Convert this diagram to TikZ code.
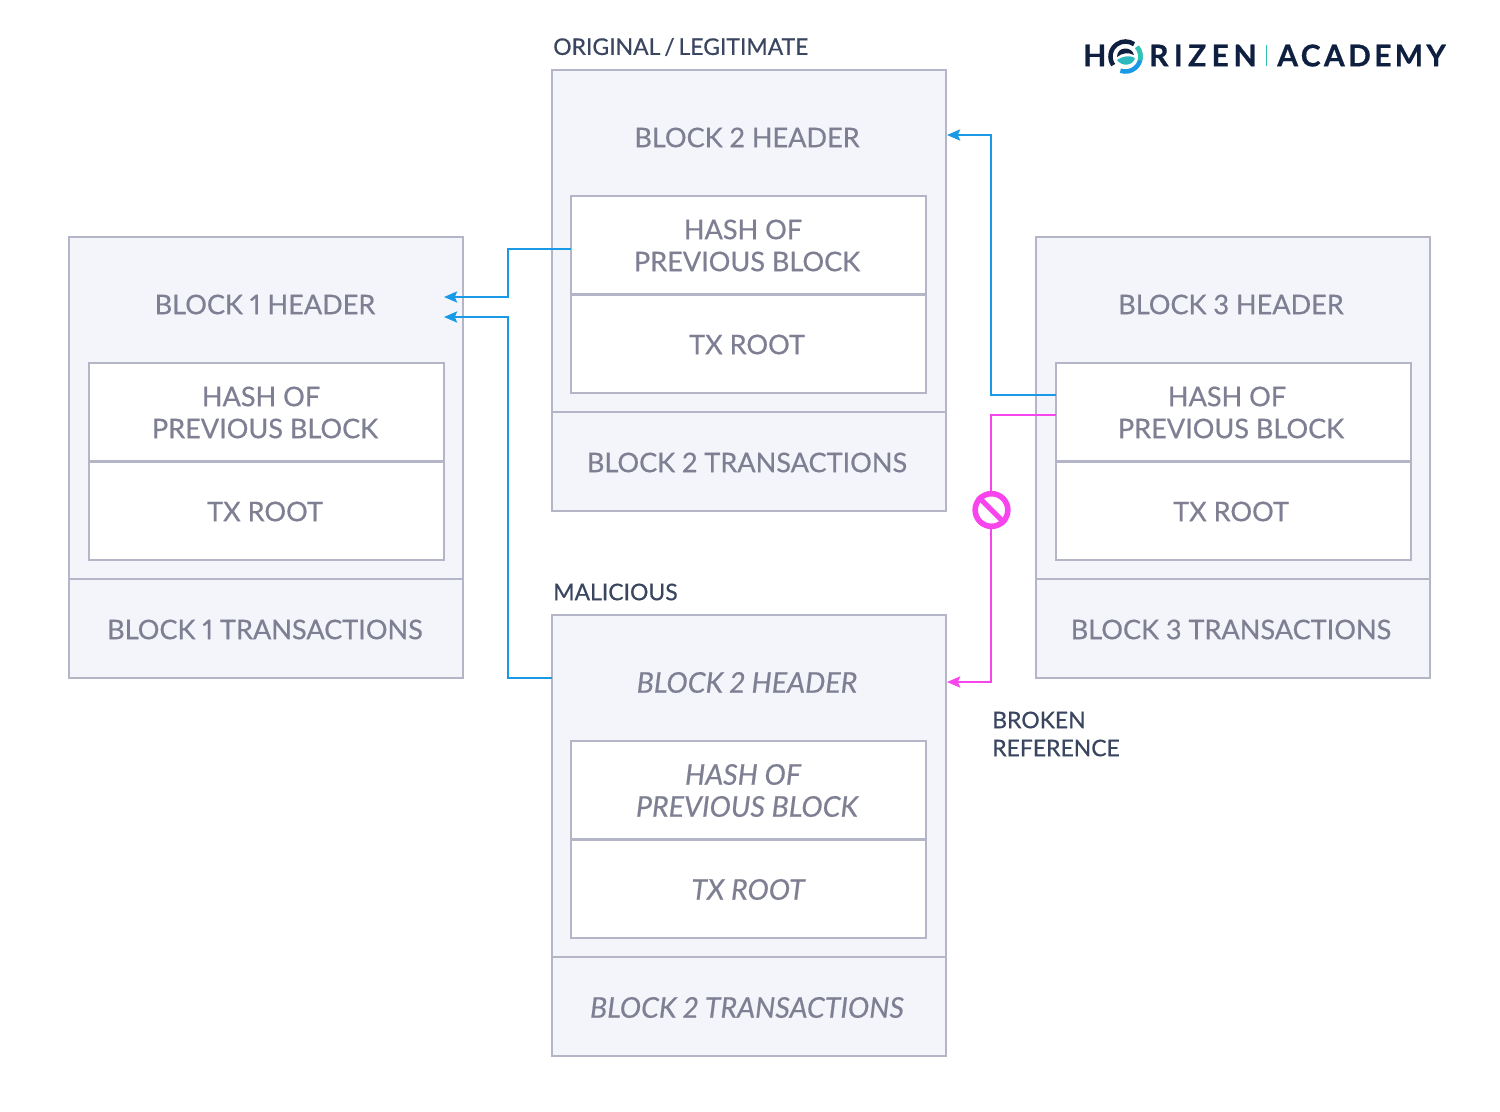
\documentclass[tikz,border=0pt]{standalone}
\usepackage{fontspec}
\setmainfont{Lato}[FakeBold=0.5,Numbers=Proportional]
\newfontfamily\logofont[LetterSpace=6,FakeBold=0.6]{Lato Bold}
\newfontfamily\logofontb[LetterSpace=11,FakeBold=0.6]{Lato Bold}
\usetikzlibrary{arrows.meta}
\definecolor{edgegray}{HTML}{B5B5C8}
\definecolor{panel}{HTML}{F4F5FA}
\definecolor{labelgray}{HTML}{7E7F93}
\definecolor{titleink}{HTML}{3A4660}
\definecolor{linkblue}{HTML}{1A9AE6}
\definecolor{linkpink}{HTML}{F844EC}
\definecolor{navy}{HTML}{0F1F40}
\definecolor{teal}{HTML}{2FC4B2}
\tikzset{
  x=0.75pt,y=-0.75pt,
  outerbox/.style={draw=edgegray,fill=panel,line width=1.6pt,anchor=north west,minimum width=295.5pt,inner sep=0pt,outer sep=0pt},
  innerbox/.style={draw=edgegray,fill=white,line width=1.5pt,anchor=north west,minimum width=266.25pt,minimum height=73.5pt,inner sep=0pt,outer sep=0pt},
  blocklabel/.style={text=labelgray,font=\fontsize{20.3}{24}\selectfont,align=center,inner sep=0pt},
  maliciouslabel/.style={blocklabel,font=\fontsize{21.4}{24}\itshape},
  titlelabel/.style={text=titleink,font=\fontsize{17.2}{21}\selectfont,anchor=west,align=left,inner sep=0pt},
  link/.style={line width=1.2pt,-{Stealth[length=10pt,width=8.5pt,inset=2pt]}},
  logotext/.style={text=navy,inner sep=0pt,anchor=west},
}
\newcommand{\blockbox}[4]{% name, x, y, x of the inner boxes
  \node[outerbox,minimum height=256.5pt] (#1head) at (#2,#3) {};
  \node[outerbox,minimum height=74.25pt] (#1tx) at (#2,#3+342) {};
  \node[innerbox] (#1hash) at (#4,#3+126) {};
  \node[innerbox] (#1root) at (#4,#3+224.5) {};
}
\begin{document}
\begin{tikzpicture}
\useasboundingbox (0,0) rectangle (1500,1111);
\fill[white] (0,0) rectangle (1500,1111);

\blockbox{a}{69}{237}{88.7}
\blockbox{b}{552}{70}{571.2}
\blockbox{c}{1036}{237}{1055.5}
\blockbox{m}{552}{615}{571.2}

\node[blocklabel] (alabel) at (265,304.5) {BLOCK 1 HEADER};
\node[blocklabel] (ahashlabel) at (265,412.5) {HASH OF\hspace*{6pt}\\PREVIOUS BLOCK};
\node[blocklabel] (arootlabel) at (265,511.5) {TX ROOT};
\node[blocklabel] (atxlabel) at (265,629.5) {BLOCK 1 TRANSACTIONS};

\node[blocklabel] (blabel) at (747,137.5) {BLOCK 2 HEADER};
\node[blocklabel] (bhashlabel) at (747,245.5) {HASH OF\hspace*{6pt}\\PREVIOUS BLOCK};
\node[blocklabel] (brootlabel) at (747,344.5) {TX ROOT};
\node[blocklabel] (btxlabel) at (747,462.5) {BLOCK 2 TRANSACTIONS};

\node[blocklabel] (clabel) at (1231,304.5) {BLOCK 3 HEADER};
\node[blocklabel] (chashlabel) at (1231,412.5) {HASH OF\hspace*{6pt}\\PREVIOUS BLOCK};
\node[blocklabel] (crootlabel) at (1231,511.5) {TX ROOT};
\node[blocklabel] (ctxlabel) at (1231,629.5) {BLOCK 3 TRANSACTIONS};

\node[maliciouslabel] (mlabel) at (747,682.5) {BLOCK 2 HEADER};
\node[maliciouslabel] (mhashlabel) at (747,790.5) {HASH OF\hspace*{6pt}\\PREVIOUS BLOCK};
\node[maliciouslabel] (mrootlabel) at (748,889.5) {TX ROOT};
\node[maliciouslabel] (mtxlabel) at (747,1007.5) {BLOCK 2 TRANSACTIONS};

\node[titlelabel] (origtitle) at (553,47) {ORIGINAL\hspace{-1.5pt} / \hspace{-1.5pt}LEGITIMATE};
\node[titlelabel] (maltitle) at (553,592) {MALICIOUS};
\node[titlelabel] (broken) at (992,734) {BROKEN\\REFERENCE};

% free ends of the connectors
\coordinate (aupper) at (444,297);
\coordinate (alower) at (444,317);
\coordinate (bport) at (947,135);
\coordinate (mport) at (947,682);
\coordinate (bout) at (571,249);
\coordinate (mout) at (552,678);
\coordinate (cblue) at (1056,395);
\coordinate (cpink) at (1056,415);

\draw[link,linkblue] (bout) -- (508,249) -- (508,297) -- (aupper);
\draw[link,linkblue] (mout) -- (508,678) -- (508,317) -- (alower);
\draw[link,linkblue] (cblue) -- (991,395) -- (991,135) -- (bport);
\draw[link,linkpink] (cpink) -- (991,415) -- (991,682) -- (mport);

% prohibition sign
\node[circle,draw=linkpink,fill=white,line width=4.2pt,minimum size=24.5pt,inner sep=0pt] (ban) at (991.5,510) {};
\draw[linkpink,line width=3.8pt] (ban.north west) -- (ban.south east);

% logo
\node[logotext,font=\logofont\fontsize{22.5}{24}\selectfont] (logoh) at (1083,55.5) {H};
\node[logotext,font=\logofont\fontsize{22.5}{24}\selectfont] (logor) at (1149,55.5) {R\hspace{4pt}I\hspace{4pt}Z\hspace{4pt}E\hspace{3.5pt}N};
\node[logotext,font=\logofontb\fontsize{22.5}{24}\selectfont] (logoa) at (1277,55.5) {ACADEMY};
\fill[teal] (1265.5,45) rectangle (1266.7,66);
% ring around the centre (1125.5,56.5), y runs downward
\draw[navy,line width=3.4pt] (1113.2,65.1) arc (145:305:15);
\draw[linkblue,line width=3.4pt] (1137,46.9) arc (-40:110:15);
\draw[teal,line width=3.4pt] (1137,46.9) arc (-40:15:15);
\fill[navy] (1117,57) .. controls (1117,46) and (1132,46) .. (1134,55) .. controls (1128,52) and (1122,53) .. (1117,57) -- cycle;
\fill[teal!75!linkblue] (1117,60) .. controls (1123,56) and (1129,55) .. (1135,58) .. controls (1133,66) and (1122,67) .. (1117,60) -- cycle;
\end{tikzpicture}
\end{document}
